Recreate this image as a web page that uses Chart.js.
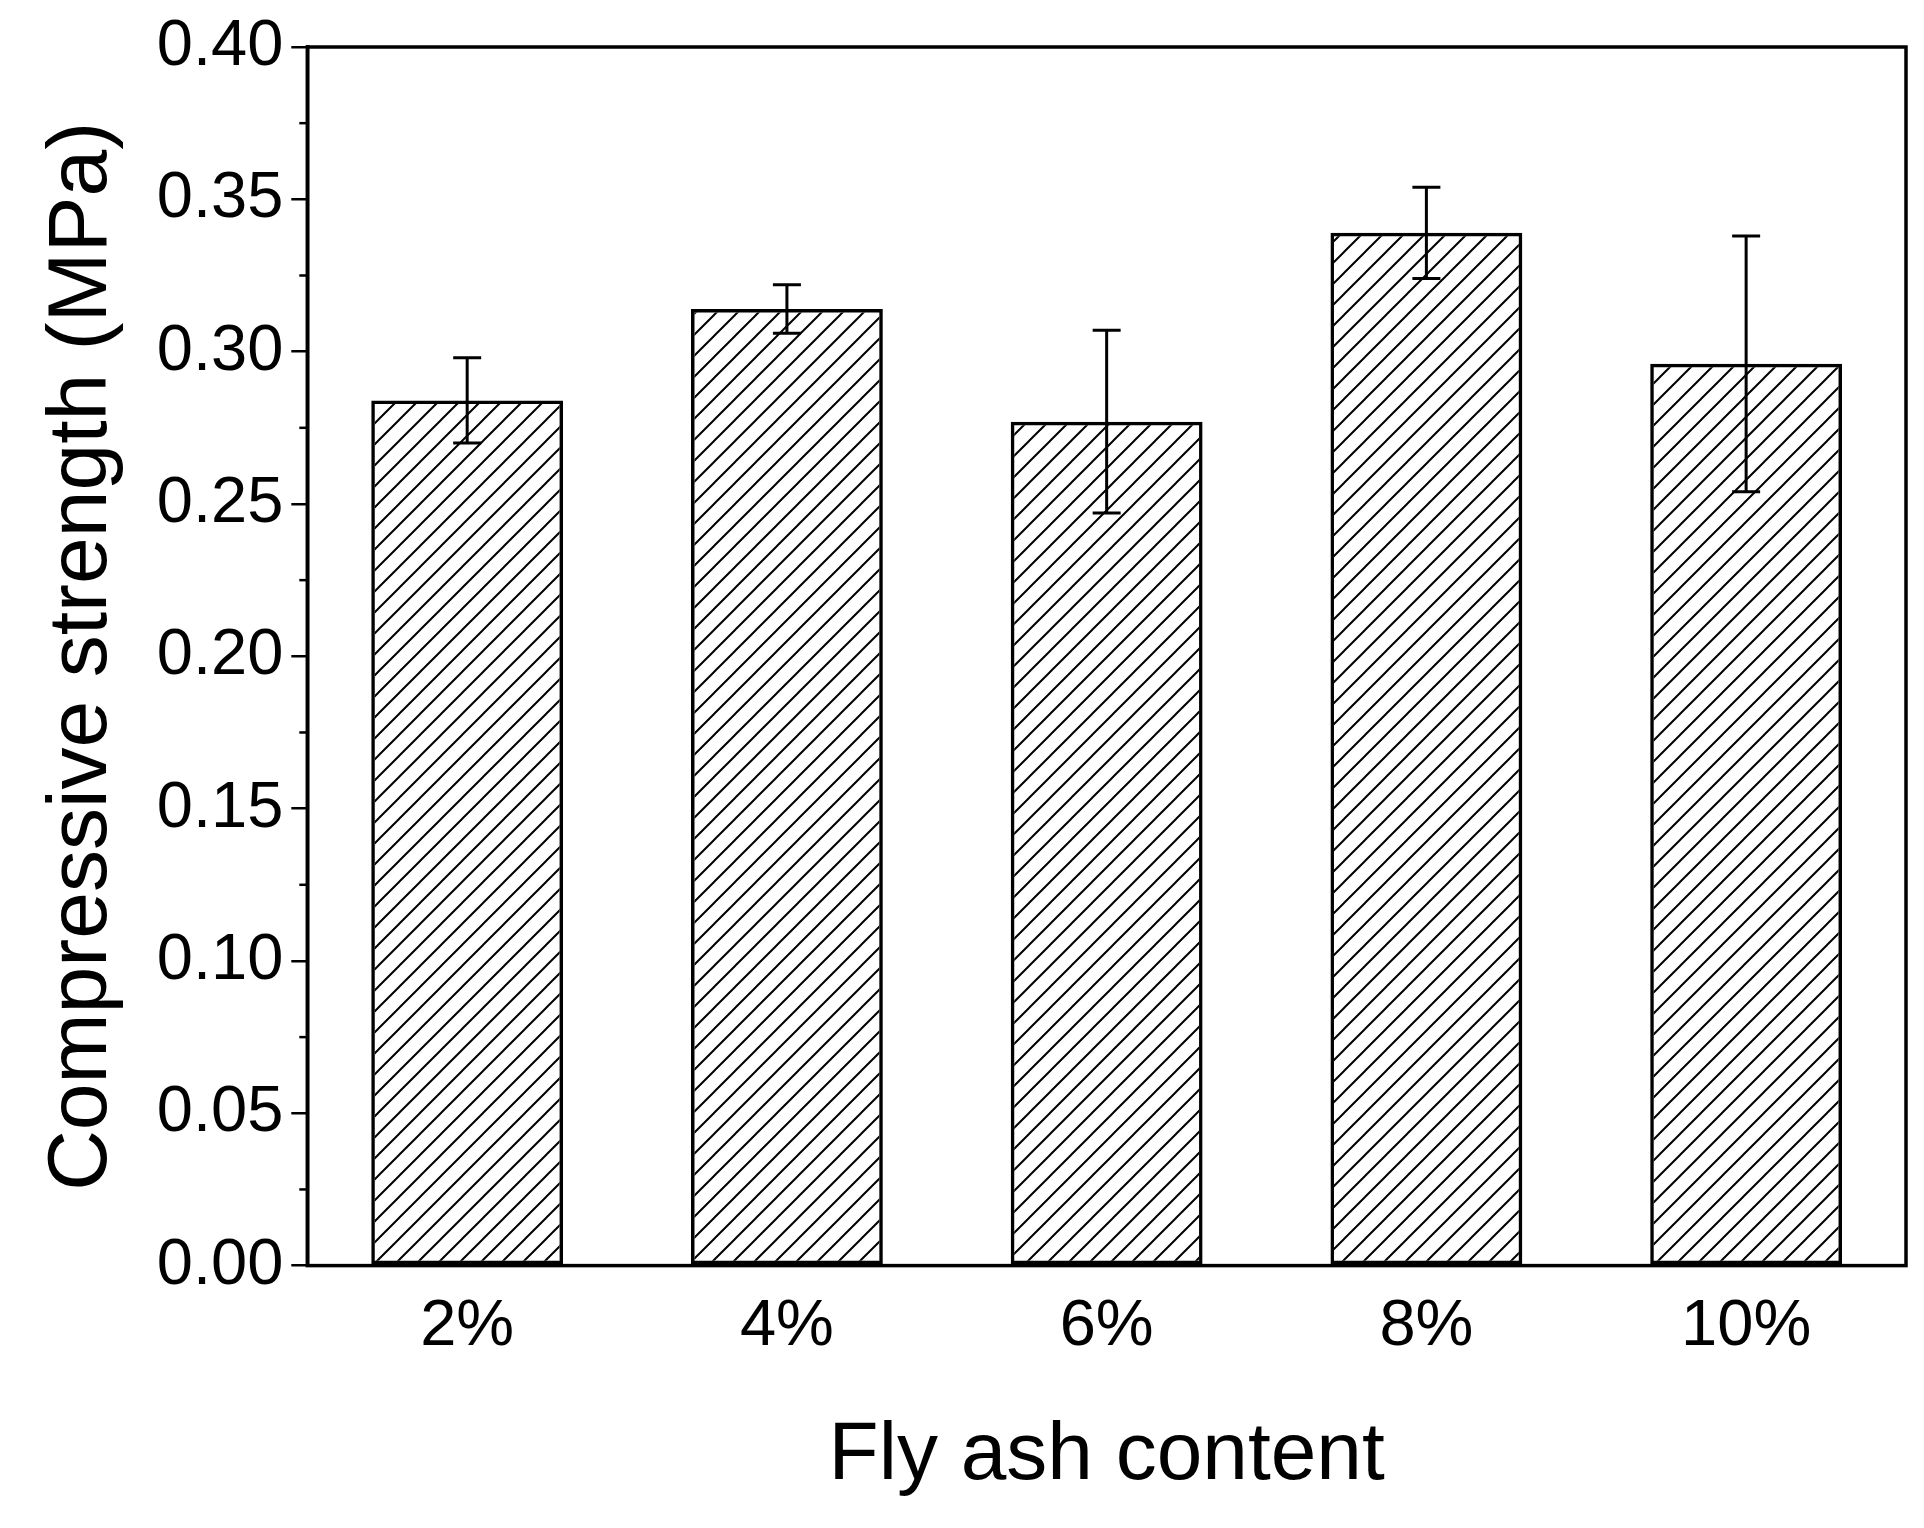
<!DOCTYPE html>
<html><head><meta charset="utf-8">
<script src="https://cdn.jsdelivr.net/npm/chart.js@4"></script>
<style>html,body{margin:0;padding:0;background:#fff}#w{width:1924px;height:1528px}</style>
</head><body><div id="w"><canvas id="c"></canvas></div>
<script>
const categories = ['2%','4%','6%','8%','10%'];
const strength = [0.284, 0.314, 0.277, 0.339, 0.296];
const errors = [0.014, 0.008, 0.030, 0.015, 0.042];

function hatch(){
  const s=21, c=document.createElement('canvas'); c.width=s; c.height=s;
  const g=c.getContext('2d'); g.strokeStyle='#000'; g.lineWidth=2;
  g.beginPath();
  g.moveTo(0,s); g.lineTo(s,0);
  g.moveTo(-s/2,s/2); g.lineTo(s/2,-s/2);
  g.moveTo(s/2,s*1.5); g.lineTo(s*1.5,s/2);
  g.stroke();
  return g.createPattern(c,'repeat');
}
const extras = {
  id:'extras',
  afterDatasetsDraw(chart){
    const {ctx, chartArea:a, scales:{x,y}} = chart;
    ctx.save();
    ctx.strokeStyle='#000'; ctx.lineWidth=3.5;
    ctx.strokeRect(a.left,a.top,a.right-a.left,a.bottom-a.top);
    ctx.lineWidth=2.5;
    for(let v=0.025; v<0.4; v+=0.05){
      const py=y.getPixelForValue(v);
      ctx.beginPath(); ctx.moveTo(a.left,py); ctx.lineTo(a.left-8,py); ctx.stroke();
    }
    const meta=chart.getDatasetMeta(0);
    ctx.lineWidth=3;
    strength.forEach((v,i)=>{
      const px=meta.data[i].x, t=y.getPixelForValue(v+errors[i]), b=y.getPixelForValue(v-errors[i]);
      ctx.beginPath();
      ctx.moveTo(px,t); ctx.lineTo(px,b);
      ctx.moveTo(px-14,t); ctx.lineTo(px+14,t);
      ctx.moveTo(px-14,b); ctx.lineTo(px+14,b);
      ctx.stroke();
    });
    ctx.restore();
  }
};
Chart.defaults.font.family='"Liberation Sans", Arial, sans-serif';
Chart.defaults.color='#000';
new Chart(document.getElementById('c'),{
  type:'bar',
  data:{labels:categories,datasets:[{data:strength,backgroundColor:hatch(),borderColor:'#000',borderWidth:3.5,categoryPercentage:0.6,barPercentage:1,borderSkipped:false}]},
  options:{
    responsive:true,maintainAspectRatio:false,animation:false,
    layout:{padding:{top:30,right:18,left:28,bottom:18}},
    plugins:{legend:{display:false},tooltip:{enabled:false}},
    scales:{
      x:{grid:{display:false,drawTicks:false},border:{display:false},
         ticks:{font:{size:65},padding:22},
         title:{display:true,text:'Fly ash content',font:{size:82},padding:{top:20}}},
      y:{min:0,max:0.4,
         grid:{drawOnChartArea:false,drawTicks:true,tickLength:16,color:'#000',lineWidth:2.5},
         border:{display:true,color:'#000',width:3.5},
         ticks:{stepSize:0.05,font:{size:65},padding:8,callback:v=>v.toFixed(2)},
         title:{display:true,text:'Compressive strength (MPa)',font:{size:84},padding:{bottom:16}}}
    }
  },
  plugins:[extras]
});
</script></body></html>
